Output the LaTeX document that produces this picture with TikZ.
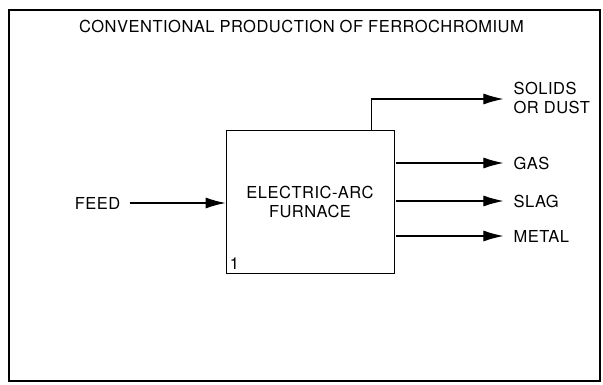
\documentclass[tikz,border=0pt]{standalone}
\usepackage{fontspec}
\setmainfont[LetterSpace=3]{TeX Gyre Heros}
\usepackage{tikz}
\usetikzlibrary{arrows.meta,positioning}

\begin{document}
\begin{tikzpicture}[
  x=1pt, y=1pt,
  every node/.style={font=\fontsize{16.5}{19}\selectfont},
  unit/.style={draw, line width=0.8pt, minimum width=168pt, minimum height=143pt, align=center},
  lbl/.style={inner sep=2pt, align=left},
  flow/.style={line width=1.1pt, -{Latex[length=20pt,width=11pt]}},
  node distance=103pt
]
\useasboundingbox (0,0) rectangle (603,384);
\draw[line width=1.2pt] (9,3) rectangle (600,374);

\node (title) at (301.5,358) {CONVENTIONAL PRODUCTION OF FERROCHROMIUM};

\node[unit] (furnace) at (310,182.5) {ELECTRIC-ARC\\FURNACE};
\node[anchor=south west, inner sep=4pt] (num) at (furnace.south west) {1};
\node[lbl, left=of furnace, yshift=-1.5pt] (feed) {FEED};

\draw[flow, shorten <=7pt] (feed.east) -- (furnace.west |- feed.east);

% outputs on the right
\node[lbl, right=117pt of furnace.east, yshift=104pt, anchor=west] (solids) {SOLIDS\\OR DUST};
\coordinate (up) at ([xshift=-23pt]furnace.north east);
\draw[flow, shorten >=8pt] (up) |- ([yshift=-1.5pt]solids.west);

\foreach \n/\t/\dy in {gas/GAS/38.5, slag/SLAG/0.5, metal/METAL/-34.5} {
  \node[lbl, right=117pt of furnace.east, yshift=\dy pt, anchor=west] (\n) {\t};
  \draw[flow, shorten >=8pt] ([xshift=2pt]furnace.east |- \n.west) -- (\n.west);
}
\end{tikzpicture}
\end{document}
